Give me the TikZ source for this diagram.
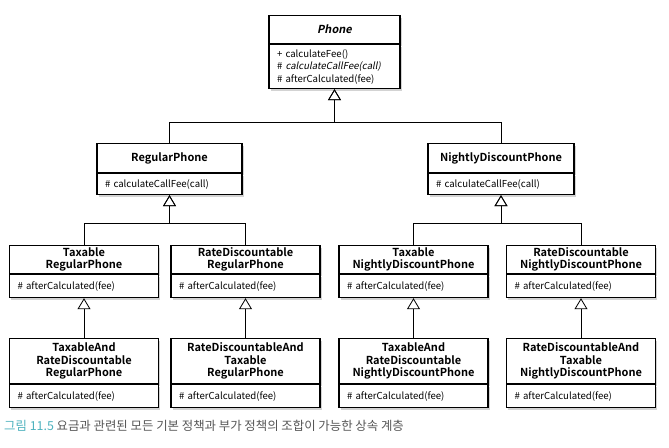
\documentclass[tikz,border=0pt]{standalone}
\usepackage{fontspec}
\setmainfont{Noto Sans CJK KR}[BoldFont={* Bold}, ItalicFont={*}, ItalicFeatures={FakeSlant=0.2}, BoldItalicFont={* Bold}, BoldItalicFeatures={FakeSlant=0.2}]
\usepackage{tikz}
\usetikzlibrary{positioning, shadows, arrows.meta}
\definecolor{capteal}{RGB}{78,178,190}
\definecolor{capgray}{RGB}{85,85,85}
\tikzstyle{classname} = [rectangle, draw=black, fill=white, line width=1.1pt, inner sep=0pt, text centered, align=center, font=\bfseries\fontsize{11}{12.5}\selectfont, drop shadow={shadow xshift=1.5pt, shadow yshift=-2pt, opacity=0.35}]
\tikzstyle{members} = [rectangle, draw=black, fill=white, line width=1.1pt, inner xsep=8pt, inner ysep=0pt, align=left, font=\fontsize{9.6}{12.5}\selectfont, drop shadow={shadow xshift=1.5pt, shadow yshift=-2pt, opacity=0.35}]
\tikzstyle{inherit} = [line width=0.8pt, -{Triangle[open, length=11pt, width=13pt]}]

\begin{document}
\begin{tikzpicture}[x=1pt, y=-1pt]
	\useasboundingbox (0,0) rectangle (669,447);

	\node (phoneN) [classname, anchor=north, minimum width=131pt, minimum height=28pt] at (334.5,15) {\itshape Phone};
	\node (phoneM) [members, below=0pt of phoneN, text width=115pt, minimum height=44pt] {+ calculateFee()\\\# \textit{calculateCallFee(call)}\\\# afterCalculated(fee)};

	\node (regN) [classname, anchor=north, minimum width=145pt, minimum height=29pt] at (169.5,143) {RegularPhone};
	\node (regM) [members, below=0pt of regN, text width=129pt, minimum height=21pt] {\# calculateCallFee(call)};
	\node (nightN) [classname, anchor=north, minimum width=146pt, minimum height=29pt] at (501,143) {NightlyDiscountPhone};
	\node (nightM) [members, below=0pt of nightN, text width=130pt, minimum height=21pt] {\# calculateCallFee(call)};

	\node (taxRN) [classname, anchor=north, minimum width=149pt, minimum height=28pt] at (84,245) {Taxable\\RegularPhone};
	\node (taxRM) [members, below=0pt of taxRN, text width=133pt, minimum height=23pt] {\# afterCalculated(fee)};
	\node (rateRN) [classname, anchor=north, minimum width=149pt, minimum height=28pt] at (245.5,245) {RateDiscountable\\RegularPhone};
	\node (rateRM) [members, below=0pt of rateRN, text width=133pt, minimum height=23pt] {\# afterCalculated(fee)};
	\node (taxNN) [classname, anchor=north, minimum width=149pt, minimum height=28pt] at (413.5,245) {Taxable\\NightlyDiscountPhone};
	\node (taxNM) [members, below=0pt of taxNN, text width=133pt, minimum height=23pt] {\# afterCalculated(fee)};
	\node (rateNN) [classname, anchor=north, minimum width=149pt, minimum height=28pt] at (581,245) {RateDiscountable\\NightlyDiscountPhone};
	\node (rateNM) [members, below=0pt of rateNN, text width=133pt, minimum height=23pt] {\# afterCalculated(fee)};

	\node (taxRateRN) [classname, anchor=north, minimum width=149pt, minimum height=45pt] at (84,338) {TaxableAnd\\RateDiscountable\\RegularPhone};
	\node (taxRateRM) [members, below=0pt of taxRateRN, text width=133pt, minimum height=23pt] {\# afterCalculated(fee)};
	\node (rateTaxRN) [classname, anchor=north, minimum width=149pt, minimum height=45pt] at (245.5,338) {RateDiscountableAnd\\Taxable\\RegularPhone};
	\node (rateTaxRM) [members, below=0pt of rateTaxRN, text width=133pt, minimum height=23pt] {\# afterCalculated(fee)};
	\node (taxRateNN) [classname, anchor=north, minimum width=149pt, minimum height=45pt] at (413.5,338) {TaxableAnd\\RateDiscountable\\NightlyDiscountPhone};
	\node (taxRateNM) [members, below=0pt of taxRateNN, text width=133pt, minimum height=23pt] {\# afterCalculated(fee)};
	\node (rateTaxNN) [classname, anchor=north, minimum width=149pt, minimum height=45pt] at (581,338) {RateDiscountableAnd\\Taxable\\NightlyDiscountPhone};
	\node (rateTaxNM) [members, below=0pt of rateTaxNN, text width=133pt, minimum height=23pt] {\# afterCalculated(fee)};

	\coordinate (phoneBar) at (334.5,122);
	\coordinate (regBar) at (169.5,223);
	\coordinate (nightBar) at (501,223);

	\draw [inherit] (regN.north) |- (phoneBar) -- (phoneM.south);
	\draw [inherit] (nightN.north) |- (phoneBar) -- (phoneM.south);
	\draw [inherit] (taxRN.north) |- (regBar) -- (regM.south);
	\draw [inherit] (rateRN.north) |- (regBar) -- (regM.south);
	\draw [inherit] (taxNN.north) |- (nightBar) -- (nightM.south);
	\draw [inherit] (rateNN.north) |- (nightBar) -- (nightM.south);
	\draw [inherit] (taxRateRN.north) -- (taxRM.south);
	\draw [inherit] (rateTaxRN.north) -- (rateRM.south);
	\draw [inherit] (taxRateNN.north) -- (taxNM.south);
	\draw [inherit] (rateTaxNN.north) -- (rateNM.south);

	\node (caption) [anchor=west, inner sep=0pt, font=\fontsize{12.4}{14}\selectfont] at (4,426) {\textcolor{capteal}{그림 11.5} \textcolor{capgray}{요금과 관련된 모든 기본 정책과 부가 정책의 조합이 가능한 상속 계층}};
\end{tikzpicture}
\end{document}
